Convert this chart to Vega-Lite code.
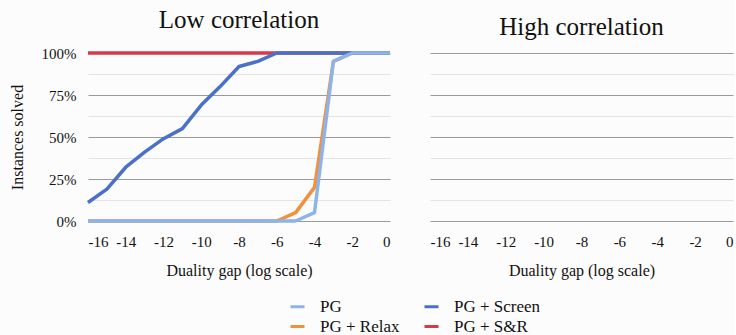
{
  "$schema": "https://vega.github.io/schema/vega-lite/v6.json",
  "background": "#fcfcfc",
  "padding": {"left": 9, "top": 8, "right": 2, "bottom": 0},
  "config": {
    "font": "Liberation Serif",
    "view": {"stroke": null},
    "title": {"font": "Liberation Serif", "fontSize": 25, "fontWeight": "normal", "color": "#111", "offset": 13, "anchor": "middle"},
    "axis": {"labelFont": "Liberation Serif", "titleFont": "Liberation Serif", "labelFontSize": 15, "titleFontSize": 16, "labelColor": "#111", "titleColor": "#111", "titleFontWeight": "normal", "ticks": false, "domain": false},
    "legend": {"labelFont": "Liberation Serif"}
  },
  "datasets": {
    "d": [
      {"series": "PG + S&R", "x": -16, "y": 1}, {"series": "PG + S&R", "x": -15, "y": 1}, {"series": "PG + S&R", "x": -14, "y": 1}, {"series": "PG + S&R", "x": -13, "y": 1}, {"series": "PG + S&R", "x": -12, "y": 1}, {"series": "PG + S&R", "x": -11, "y": 1}, {"series": "PG + S&R", "x": -10, "y": 1}, {"series": "PG + S&R", "x": -9, "y": 1}, {"series": "PG + S&R", "x": -8, "y": 1}, {"series": "PG + S&R", "x": -7, "y": 1}, {"series": "PG + S&R", "x": -6, "y": 1}, {"series": "PG + S&R", "x": -5, "y": 1}, {"series": "PG + S&R", "x": -4, "y": 1}, {"series": "PG + S&R", "x": -3, "y": 1}, {"series": "PG + S&R", "x": -2, "y": 1}, {"series": "PG + S&R", "x": -1, "y": 1}, {"series": "PG + S&R", "x": 0, "y": 1},
      {"series": "PG + Relax", "x": -16, "y": 0}, {"series": "PG + Relax", "x": -15, "y": 0}, {"series": "PG + Relax", "x": -14, "y": 0}, {"series": "PG + Relax", "x": -13, "y": 0}, {"series": "PG + Relax", "x": -12, "y": 0}, {"series": "PG + Relax", "x": -11, "y": 0}, {"series": "PG + Relax", "x": -10, "y": 0}, {"series": "PG + Relax", "x": -9, "y": 0}, {"series": "PG + Relax", "x": -8, "y": 0}, {"series": "PG + Relax", "x": -7, "y": 0}, {"series": "PG + Relax", "x": -6, "y": 0}, {"series": "PG + Relax", "x": -5, "y": 0.05}, {"series": "PG + Relax", "x": -4, "y": 0.2}, {"series": "PG + Relax", "x": -3, "y": 0.95}, {"series": "PG + Relax", "x": -2, "y": 1}, {"series": "PG + Relax", "x": -1, "y": 1}, {"series": "PG + Relax", "x": 0, "y": 1},
      {"series": "PG + Screen", "x": -16, "y": 0.11}, {"series": "PG + Screen", "x": -15, "y": 0.19}, {"series": "PG + Screen", "x": -14, "y": 0.32}, {"series": "PG + Screen", "x": -13, "y": 0.41}, {"series": "PG + Screen", "x": -12, "y": 0.49}, {"series": "PG + Screen", "x": -11, "y": 0.55}, {"series": "PG + Screen", "x": -10, "y": 0.69}, {"series": "PG + Screen", "x": -9, "y": 0.8}, {"series": "PG + Screen", "x": -8, "y": 0.92}, {"series": "PG + Screen", "x": -7, "y": 0.95}, {"series": "PG + Screen", "x": -6, "y": 1}, {"series": "PG + Screen", "x": -5, "y": 1}, {"series": "PG + Screen", "x": -4, "y": 1}, {"series": "PG + Screen", "x": -3, "y": 1}, {"series": "PG + Screen", "x": -2, "y": 1}, {"series": "PG + Screen", "x": -1, "y": 1}, {"series": "PG + Screen", "x": 0, "y": 1},
      {"series": "PG", "x": -16, "y": 0}, {"series": "PG", "x": -15, "y": 0}, {"series": "PG", "x": -14, "y": 0}, {"series": "PG", "x": -13, "y": 0}, {"series": "PG", "x": -12, "y": 0}, {"series": "PG", "x": -11, "y": 0}, {"series": "PG", "x": -10, "y": 0}, {"series": "PG", "x": -9, "y": 0}, {"series": "PG", "x": -8, "y": 0}, {"series": "PG", "x": -7, "y": 0}, {"series": "PG", "x": -6, "y": 0}, {"series": "PG", "x": -5, "y": 0}, {"series": "PG", "x": -4, "y": 0.05}, {"series": "PG", "x": -3, "y": 0.95}, {"series": "PG", "x": -2, "y": 1}, {"series": "PG", "x": -1, "y": 1}, {"series": "PG", "x": 0, "y": 1}
    ]
  },
  "spacing": 38,
  "hconcat": [
    {
      "title": "Low correlation",
      "width": 302,
      "height": 168,
      "data": {"name": "d"},
      "mark": {"type": "line", "strokeWidth": 3.5, "strokeJoin": "round"},
      "encoding": {
        "x": {"field": "x", "type": "quantitative", "scale": {"domain": [-16, 0], "nice": false}, "axis": {"values": [-16, -14, -12, -10, -8, -6, -4, -2, 0], "labelExpr": "replace(datum.label, '\u2212', '-')", "grid": false, "labelPadding": 13, "titlePadding": 13, "title": "Duality gap (log scale)"}},
        "y": {"field": "y", "type": "quantitative", "scale": {"domain": [0, 1], "nice": false}, "axis": {"values": [0, 0.125, 0.25, 0.375, 0.5, 0.625, 0.75, 0.875, 1], "labelExpr": "datum.value == 0 || datum.value == 0.25 || datum.value == 0.5 || datum.value == 0.75 || datum.value == 1 ? format(datum.value, '.0%') : ''", "gridColor": {"condition": {"test": "datum.value == 0 || datum.value == 0.25 || datum.value == 0.5 || datum.value == 0.75 || datum.value == 1", "value": "#9a9a9a"}, "value": "#e4e4e4"}, "gridWidth": 1.2, "labelPadding": 12, "titlePadding": 16, "title": "Instances solved"}},
        "color": {"field": "series", "type": "nominal", "scale": {"domain": ["PG", "PG + Relax", "PG + Screen", "PG + S&R"], "range": ["#8db3ea", "#f0913e", "#4a70c8", "#d5394a"]}, "legend": {"title": null, "orient": "none", "legendX": 201, "legendY": 245, "columns": 2, "symbolType": "stroke", "symbolSize": 196, "symbolStrokeWidth": 3, "labelFontSize": 17, "labelColor": "#111", "columnPadding": 18, "rowPadding": 2, "labelOffset": 14}}
      }
    },
    {
      "title": "High correlation",
      "width": 303,
      "height": 168,
      "data": {"name": "d"},
      "mark": {"type": "line", "opacity": 0},
      "encoding": {
        "x": {"field": "x", "type": "quantitative", "scale": {"domain": [-16, 0], "nice": false}, "axis": {"values": [-16, -14, -12, -10, -8, -6, -4, -2, 0], "labelExpr": "replace(datum.label, '\u2212', '-')", "grid": false, "labelPadding": 13, "titlePadding": 13, "title": "Duality gap (log scale)"}},
        "y": {"field": "y", "type": "quantitative", "scale": {"domain": [0, 1], "nice": false}, "axis": {"values": [0, 0.125, 0.25, 0.375, 0.5, 0.625, 0.75, 0.875, 1], "labels": false, "title": null, "gridColor": {"condition": {"test": "datum.value == 0 || datum.value == 0.25 || datum.value == 0.5 || datum.value == 0.75 || datum.value == 1", "value": "#9a9a9a"}, "value": "#e4e4e4"}, "gridWidth": 1.2}},
        "detail": {"field": "series", "type": "nominal"}
      }
    }
  ]
}
